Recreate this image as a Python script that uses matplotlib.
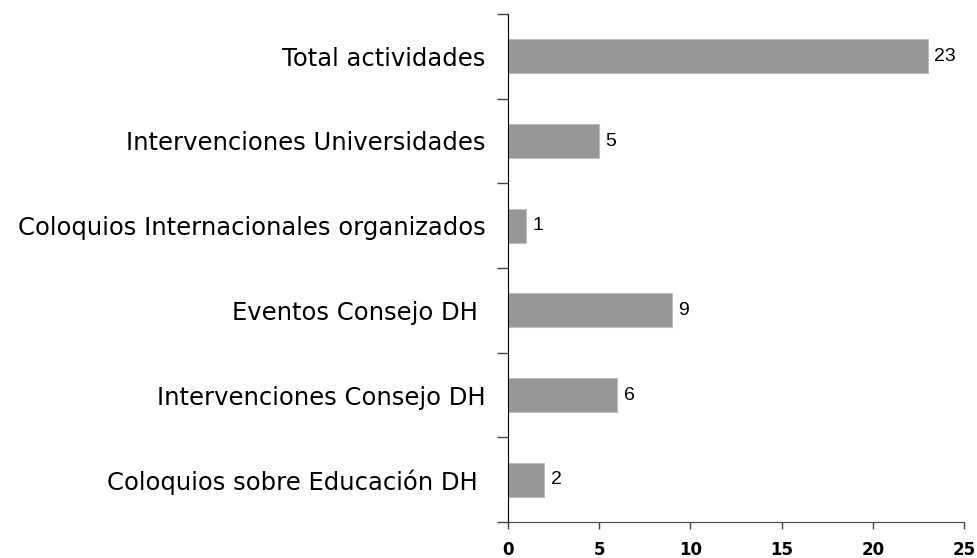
import matplotlib.pyplot as plt
from matplotlib.ticker import MultipleLocator, FixedLocator

categories = ["Total actividades", "Intervenciones Universidades",
              "Coloquios Internacionales organizados", "Eventos Consejo DH ",
              "Intervenciones Consejo DH", "Coloquios sobre Educación DH "]
values = [23, 5, 1, 9, 6, 2]

fig = plt.figure(figsize=(9.77, 5.58), dpi=100)
ax = fig.add_axes([508/977, 1 - 522/558, 456/977, 508/558])

ypos = list(range(len(categories)))[::-1]
ax.barh(ypos, values, height=0.4, color="#969696", edgecolor="#bdbdbd", lw=0.8)
for y, v in zip(ypos, values):
    ax.text(v + 0.35, y, str(v), va="center", ha="left", fontsize=14,
            family="Liberation Sans", color="black")

ax.set_xlim(0, 25)
ax.set_ylim(-0.5, len(categories) - 0.5)
ax.xaxis.set_major_locator(MultipleLocator(5))
ax.set_yticks(ypos)
ax.set_yticklabels(categories, family="DejaVu Sans", fontsize=17.5)
ax.yaxis.set_minor_locator(FixedLocator([i + 0.5 for i in range(-1, len(categories))]))
ax.tick_params(axis="y", which="major", length=0, pad=16)
ax.tick_params(axis="y", which="minor", length=8, width=1, color="#444444")
ax.tick_params(axis="x", length=5, width=1, color="#444444", pad=9)
for lab in ax.get_xticklabels():
    lab.set_family("DejaVu Sans")
    lab.set_fontweight("bold")
    lab.set_fontsize(12)

for s in ["top", "right"]:
    ax.spines[s].set_visible(False)
ax.spines["left"].set_color("black")
ax.spines["bottom"].set_color("#444444")

fig.savefig("out.png", dpi=100)
